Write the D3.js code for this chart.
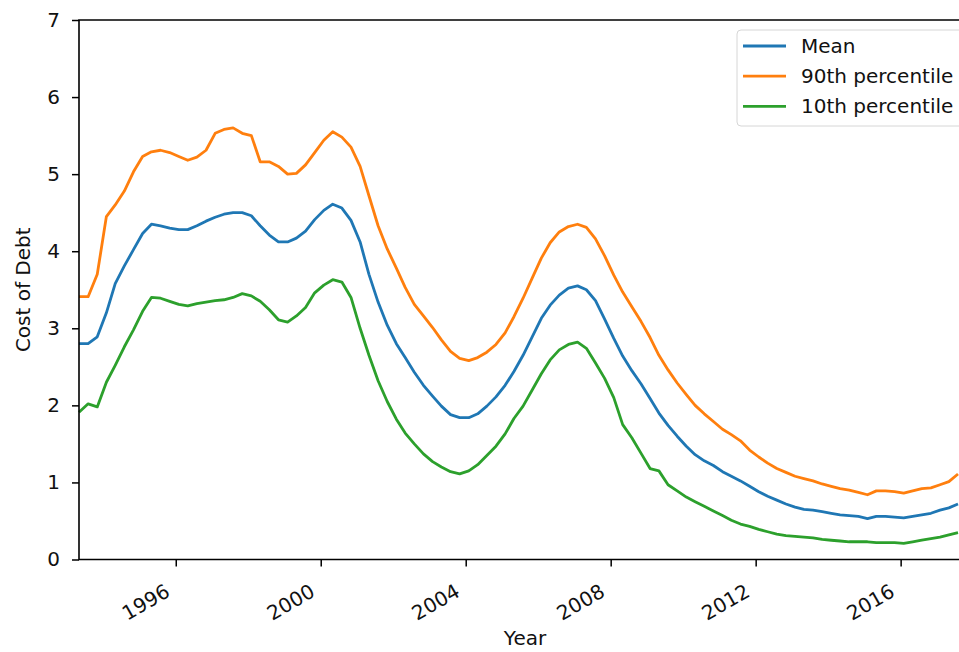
<!DOCTYPE html>
<html>
<head>
<meta charset="utf-8">
<script src="https://cdn.jsdelivr.net/npm/d3@7"></script>
<style>
  body { margin: 0; background: #fff; }
  #canvas text { font-family: "DejaVu Sans", sans-serif; fill: #111; }
</style>
</head>
<body>
<div id="canvas"></div>
<script>

/*
Quarterly observations, first one in May 1993 */
var first_month = "1993-05";

/*
Series values, one row per year (Feb, May, Aug, Nov) */
var mean_values = [
  2.80, 2.80, 2.89,
  3.20, 3.58, 3.81, 4.02,
  4.23, 4.35, 4.33, 4.30,
  4.28, 4.28, 4.33, 4.39,
  4.44, 4.48, 4.50, 4.50,
  4.46, 4.33, 4.21, 4.12,
  4.12, 4.17, 4.26, 4.41,
  4.53, 4.61, 4.56, 4.40,
  4.12, 3.70, 3.34, 3.04,
  2.80, 2.62, 2.43, 2.26,
  2.12, 1.99, 1.88, 1.84,
  1.84, 1.89, 1.99, 2.11,
  2.26, 2.44, 2.65, 2.89,
  3.13, 3.30, 3.43, 3.52,
  3.55, 3.50, 3.36, 3.12,
  2.87, 2.64, 2.45, 2.28,
  2.09, 1.90, 1.74, 1.60,
  1.47, 1.36, 1.28, 1.22,
  1.14, 1.08, 1.02, 0.95,
  0.88, 0.82, 0.77, 0.72,
  0.68, 0.65, 0.64, 0.62,
  0.60, 0.58, 0.57, 0.56,
  0.53, 0.56, 0.56, 0.55,
  0.54, 0.56, 0.58, 0.60,
  0.64, 0.67, 0.72
];

var p90_values = [
  3.41, 3.41, 3.70,
  4.45, 4.60, 4.78, 5.03,
  5.23, 5.29, 5.31, 5.28,
  5.23, 5.18, 5.22, 5.31,
  5.53, 5.58, 5.60, 5.53,
  5.50, 5.16, 5.16, 5.10,
  5.00, 5.01, 5.12, 5.28,
  5.44, 5.55, 5.48, 5.35,
  5.10, 4.72, 4.33, 4.03,
  3.78, 3.53, 3.31, 3.16,
  3.01, 2.85, 2.70, 2.61,
  2.58, 2.62, 2.69, 2.79,
  2.94, 3.15, 3.39, 3.65,
  3.91, 4.11, 4.25, 4.32,
  4.35, 4.31, 4.16, 3.94,
  3.69, 3.47, 3.28, 3.09,
  2.88, 2.65, 2.46, 2.29,
  2.14, 2.00, 1.89, 1.79,
  1.69, 1.62, 1.54, 1.42,
  1.33, 1.25, 1.18, 1.13,
  1.08, 1.05, 1.02, 0.98,
  0.95, 0.92, 0.90, 0.87,
  0.84, 0.89, 0.89, 0.88,
  0.86, 0.89, 0.92, 0.93,
  0.97, 1.01, 1.11
];

var p10_values = [
  1.91, 2.02, 1.98,
  2.30, 2.52, 2.76, 2.98,
  3.22, 3.40, 3.39, 3.35,
  3.31, 3.29, 3.32, 3.34,
  3.36, 3.37, 3.40, 3.45,
  3.42, 3.35, 3.24, 3.11,
  3.08, 3.16, 3.27, 3.46,
  3.56, 3.63, 3.60, 3.40,
  3.00, 2.65, 2.32, 2.05,
  1.82, 1.64, 1.50, 1.37,
  1.27, 1.20, 1.14, 1.11,
  1.15, 1.23, 1.35, 1.47,
  1.63, 1.83, 1.99, 2.20,
  2.41, 2.59, 2.72, 2.79,
  2.82, 2.74, 2.55, 2.35,
  2.10, 1.75, 1.58, 1.38,
  1.18, 1.15, 0.97, 0.89,
  0.81, 0.75, 0.69, 0.63,
  0.57, 0.51, 0.46, 0.43,
  0.39, 0.36, 0.33, 0.31,
  0.30, 0.29, 0.28, 0.26,
  0.25, 0.24, 0.23, 0.23,
  0.23, 0.22, 0.22, 0.22,
  0.21, 0.23, 0.25, 0.27,
  0.29, 0.32, 0.35
];

var series_names = ["Mean", "90th percentile", "10th percentile"];
var series_colors = ["#1f77b4", "#ff7f0e", "#2ca02c"];
var x_tick_years = [1996, 2000, 2004, 2008, 2012, 2016];
var y_ticks = [0, 1, 2, 3, 4, 5, 6, 7];


var width = 959, height = 652;
var margin = {left: 79, top: 20, right: 1, bottom: 93};
var font_size = "20px";

/*
One date for every value, stepping three months */
function build_dates(n) {
  var start = d3.timeParse("%Y-%m")(first_month);
  return d3.range(n).map(function(i) { return d3.timeMonth.offset(start, 3 * i); });
}

function draw_chart() {
  var dates = build_dates(mean_values.length);
  var all_series = [mean_values, p90_values, p10_values];

  var svg = d3.select("#canvas").append("svg")
      .attr("width", width)
      .attr("height", height);

  var x = d3.scaleTime()
      .domain([dates[0], dates[dates.length - 1]])
      .range([margin.left, width - margin.right]);
  var y = d3.scaleLinear()
      .domain([0, 7])
      .range([height - margin.bottom + 0.5, margin.top]);

  // series lines
  var line = d3.line()
      .x(function(d, i) { return x(dates[i]); })
      .y(function(d) { return y(d); });

  all_series.forEach(function(values, k) {
    svg.append("path")
        .datum(values)
        .attr("fill", "none")
        .attr("stroke", series_colors[k])
        .attr("stroke-width", 2.8)
        .attr("stroke-linejoin", "round")
        .attr("d", line);
  });

  // y axis
  var yAxis = svg.append("g")
      .attr("transform", "translate(" + margin.left + ",0)")
      .call(d3.axisLeft(y).tickValues(y_ticks).tickSize(7).tickPadding(12)
        .tickFormat(d3.format("d")));
  // x axis
  var x_ticks = x_tick_years.map(function(yr) { return new Date(yr, 0, 1); });
  var xAxis = svg.append("g")
      .attr("transform", "translate(0," + y(0) + ")")
      .call(d3.axisBottom(x).tickValues(x_ticks).tickSize(7).tickFormat(d3.timeFormat("%Y")));

  [yAxis, xAxis].forEach(function(g) {
    g.select(".domain").remove();
    g.selectAll(".tick line").attr("stroke", "#000").attr("stroke-width", 1.5);
    g.selectAll(".tick text").style("font-size", font_size);
  });

  xAxis.selectAll(".tick text")
      .attr("text-anchor", "end")
      .attr("dy", null)
      .attr("y", null)
      .attr("transform", "translate(-5,36) rotate(-30)");

  // spines (right one is outside the picture)
  svg.append("path")
      .attr("fill", "none")
      .attr("stroke", "#000")
      .attr("stroke-width", 1.6)
      .attr("d", "M" + (width + 20) + "," + y(7) + "H" + margin.left + "V" + y(0) + "H" + (width + 20));

  // axis labels
  svg.append("text")
      .attr("x", 525)
      .attr("y", 645)
      .attr("text-anchor", "middle")
      .style("font-size", font_size)
      .text("Year");
  svg.append("text")
      .attr("transform", "translate(30," + ((y(0) + y(7)) / 2) + ") rotate(-90)")
      .attr("text-anchor", "middle")
      .style("font-size", font_size)
      .text("Cost of Debt");

  // legend
  var legend = svg.append("g");
  legend.append("rect")
      .attr("x", 737).attr("y", 30)
      .attr("width", 226).attr("height", 96)
      .attr("rx", 4)
      .attr("fill", "#fff")
      .attr("fill-opacity", 0.8)
      .attr("stroke", "#d6d6d6");
  series_names.forEach(function(name, k) {
    var ly = 46 + k * 30.2;
    legend.append("line")
        .attr("x1", 743).attr("x2", 786)
        .attr("y1", ly).attr("y2", ly)
        .attr("stroke", series_colors[k])
        .attr("stroke-width", 2.8);
    legend.append("text")
        .attr("x", 801)
        .attr("y", ly + 7)
        .style("font-size", font_size)
        .text(name);
  });
}

document.addEventListener('DOMContentLoaded', function() { draw_chart(); });
</script>
</body>
</html>
